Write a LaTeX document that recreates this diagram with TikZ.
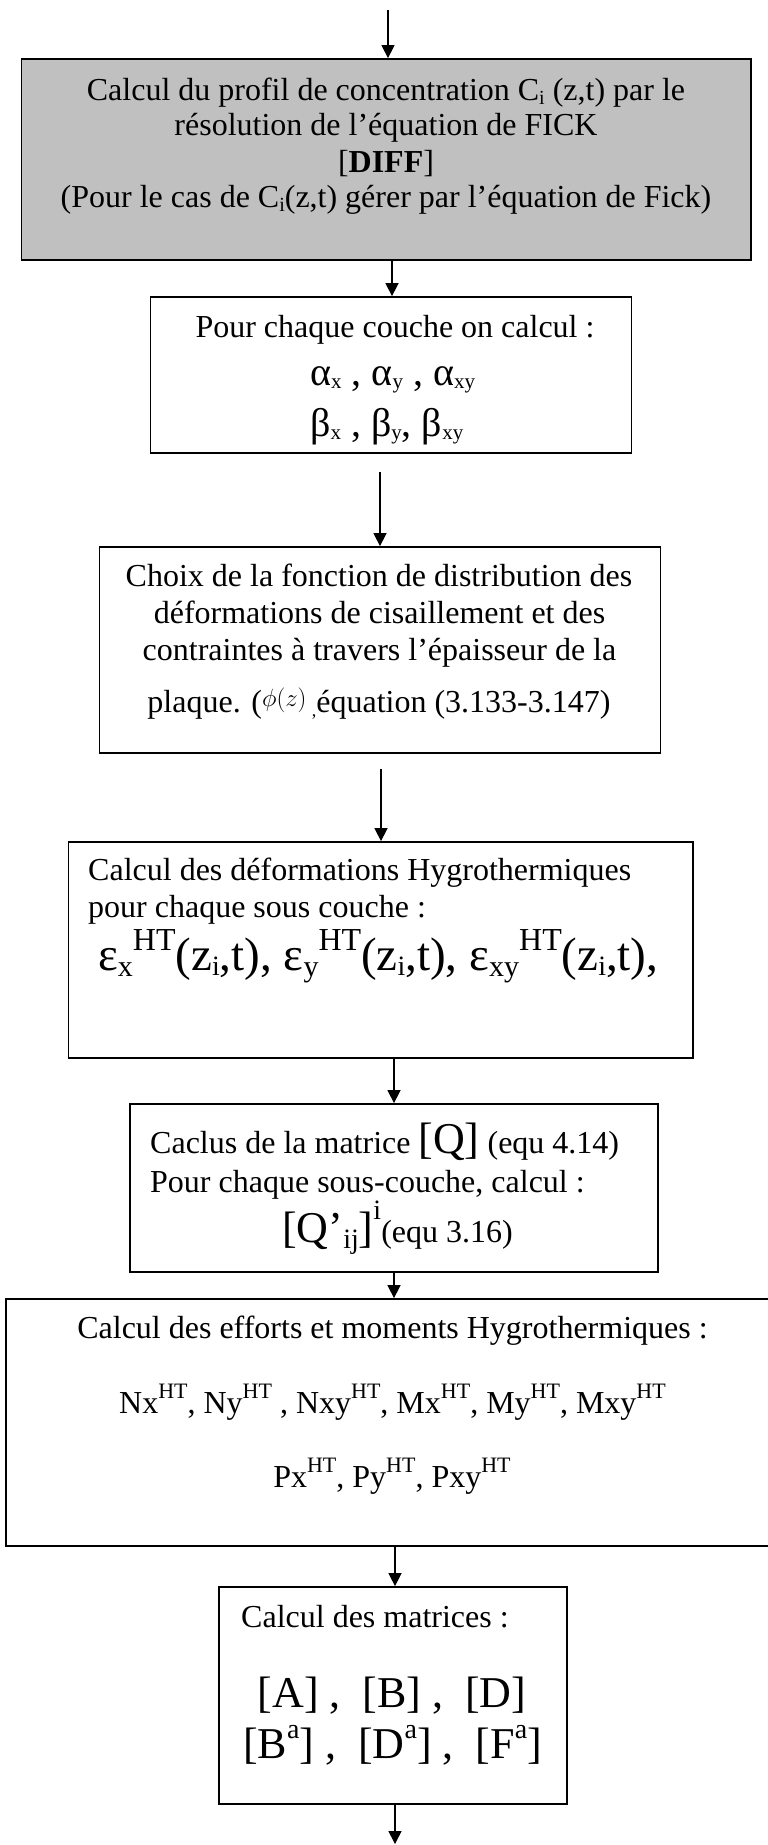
\documentclass[tikz,border=0pt]{standalone}
\usepackage{fontspec}
\setmainfont{Liberation Serif}
\usetikzlibrary{arrows.meta}
\definecolor{boxgray}{RGB}{192,192,192}
\newcommand\myfs[1]{\fontsize{#1}{#1}\selectfont}
\newcommand\rsup[3]{\raisebox{#2}{\myfs{#1}#3}}
\begin{document}
\begin{tikzpicture}[x=1pt,y=-1pt,
  box/.style={draw=black,line width=1.8pt,inner sep=0pt},
  txt/.style={inner sep=0pt,font=\myfs{32}},
  arr/.style={line width=1.5pt,-{Triangle[length=13pt,width=13pt]}}]
\path[use as bounding box] (0,0) rectangle (768,1845);
% boxes
\node[box,fill=boxgray,minimum width=729.5pt,minimum height=201pt] (b1) at (386.25,159.5) {};
\node[box,minimum width=481pt,minimum height=156pt] (b2) at (391,375) {};
\node[box,minimum width=561pt,minimum height=206pt] (b3) at (380,650) {};
\node[box,minimum width=624.5pt,minimum height=216pt] (b4) at (380.75,950) {};
\node[box,minimum width=528pt,minimum height=168pt] (b5) at (394,1188) {};
\node[box,minimum width=774pt,minimum height=247pt] (b6) at (393,1422.5) {};
\node[box,minimum width=348pt,minimum height=217pt] (b7) at (393,1695.5) {};
% connectors
\coordinate (s1) at (388,10);
\coordinate (x2) at (392,0);
\coordinate (s3) at (380,472);
\coordinate (s4) at (381,769);
\coordinate (x5) at (394,0);
\coordinate (x7) at (395,0);
\coordinate (e8) at (395,1844);
\draw[arr] (s1) -- (s1 |- b1.north);
\draw[arr] (x2 |- b1.south) -- (x2 |- b2.north);
\draw[arr] (s3) -- (s3 |- b3.north);
\draw[arr] (s4) -- (s4 |- b4.north);
\draw[arr] (x5 |- b4.south) -- (x5 |- b5.north);
\draw[arr] (x5 |- b5.south) -- (x5 |- b6.north);
\draw[arr] (x7 |- b6.south) -- (x7 |- b7.north);
\draw[arr] (x7 |- b7.south) -- (e8);
% box 1
\node[txt,anchor=base] (t11) at (386,100) {Calcul du profil de concentration C\rsup{20}{-4pt}{i} (z,t) par le};
\node[txt,anchor=base] (t12) at (386,135) {résolution de l’équation de FICK};
\node[txt,anchor=base] (t13) at (386,172) {[\textbf{DIFF}]};
\node[txt,anchor=base] (t14) at (386,207) {(Pour le cas de C\rsup{20}{-4pt}{i}(z,t) gérer par l’équation de Fick)};
% box 2
\node[txt,anchor=base] (t21) at (395,337) {Pour chaque couche on calcul :};
\node[txt,anchor=base west] (t22) at (310,385) {\myfs{40}α\rsup{21}{-3pt}{x} , α\rsup{21}{-3pt}{y} , α\rsup{21}{-3pt}{xy}};
\node[txt,anchor=base west] (t23) at (310,436) {\myfs{40}β\rsup{21}{-3pt}{x} , β\rsup{21}{-3pt}{y}, β\rsup{21}{-3pt}{xy}};
% box 3
\node[txt,anchor=base] (t31) at (379,586) {Choix de la fonction de distribution des};
\node[txt,anchor=base] (t32) at (379.5,623) {déformations de cisaillement et des};
\node[txt,anchor=base] (t33) at (379.5,660) {contraintes à travers l’épaisseur de la};
\node[txt,anchor=base] (t34) at (379,712) {plaque. (\raisebox{6pt}{\myfs{30}$\phi(z)$}\,\raisebox{-4pt}{\myfs{18},}équation (3.133-3.147)};
% box 4
\node[txt,anchor=base west] (t41) at (88,880) {Calcul des déformations Hygrothermiques};
\node[txt,anchor=base west] (t42) at (88,917) {pour chaque sous couche :};
\node[txt,anchor=base west] (t43) at (98,970) {\myfs{47}ε\rsup{30}{-6pt}{x}\rsup{32}{20pt}{HT}(z\rsup{28}{-5pt}{i},t), ε\rsup{30}{-6pt}{y}\rsup{32}{20pt}{HT}(z\rsup{28}{-5pt}{i},t), ε\rsup{30}{-6pt}{xy}\rsup{32}{20pt}{HT}(z\rsup{28}{-5pt}{i},t),};
% box 5
\node[txt,anchor=base west] (t51) at (150,1153) {Caclus de la matrice {\myfs{44}[Q]} (equ 4.14)};
\node[txt,anchor=base west] (t52) at (150,1192) {Pour chaque sous-couche, calcul :};
\node[txt,anchor=base west] (t53) at (282,1242) {{\myfs{44}[Q’}\rsup{28}{-6pt}{ij}{\myfs{44}]}\rsup{28}{23pt}{i}(equ 3.16)};
% box 6
\node[txt,anchor=base] (t61) at (392.5,1338) {Calcul des efforts et moments Hygrothermiques :};
\node[txt,anchor=base] (t62) at (392.5,1413) {Nx\rsup{22}{15pt}{HT}, Ny\rsup{22}{15pt}{HT} , Nxy\rsup{22}{15pt}{HT}, Mx\rsup{22}{15pt}{HT}, My\rsup{22}{15pt}{HT}, Mxy\rsup{22}{15pt}{HT}};
\node[txt,anchor=base] (t63) at (392,1487) {Px\rsup{22}{15pt}{HT}, Py\rsup{22}{15pt}{HT}, Pxy\rsup{22}{15pt}{HT}};
% box 7
\node[txt,anchor=base west] (t71) at (241,1627) {Calcul des matrices :};
\node[txt,anchor=base] (t72) at (392,1707) {\myfs{44}[A] ,\ \ [B] ,\ \ [D]};
\node[txt,anchor=base] (t73) at (392.5,1758) {\myfs{44}[B\rsup{28}{20pt}{a}] ,\ \ [D\rsup{28}{20pt}{a}] ,\ \ [F\rsup{28}{20pt}{a}]};
\end{tikzpicture}
\end{document}
